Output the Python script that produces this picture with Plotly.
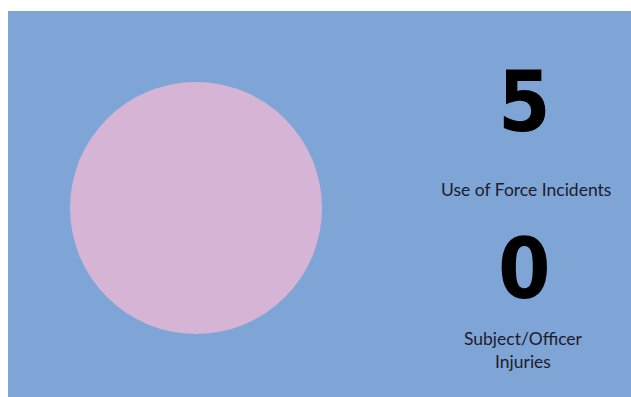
import plotly.graph_objects as go

# Summary values
categories = ["Use of Force Incidents"]
incident_counts = [5]
stat_values = ["5", "0"]
stat_labels = ["Use of Force Incidents", "Subject/Officer<br>Injuries"]

W, H = 631, 397
BLUE = "#7fa5d6"
PINK = "#d5b4d6"


def px_x(x):
    return x / W


def px_y(y):
    return 1 - y / H


fig = go.Figure()

fig.add_trace(go.Pie(
    labels=categories,
    values=incident_counts,
    marker=dict(colors=[PINK], line=dict(width=0)),
    textinfo="none",
    hoverinfo="label+value",
    sort=False,
    showlegend=False,
    domain=dict(x=[px_x(70), px_x(322)], y=[px_y(334), px_y(82)]),
))

# background panel
fig.add_shape(type="rect", xref="paper", yref="paper",
              x0=px_x(8), x1=1.0, y0=0.0, y1=px_y(11),
              fillcolor=BLUE, line=dict(width=0), layer="below")

num_font = dict(family="DejaVu Sans Condensed", weight="bold",
                size=84, color="#000000")
lbl_font = dict(family="Lato, Open Sans, sans-serif", size=17.5, color="#1c1c2c")

for val, y in zip(stat_values, [102, 269]):
    fig.add_annotation(text=val, x=px_x(524), y=px_y(y),
                       xref="paper", yref="paper", showarrow=False,
                       xanchor="center", yanchor="middle", font=num_font)

fig.add_annotation(text=stat_labels[0], x=px_x(526), y=px_y(189),
                   xref="paper", yref="paper", showarrow=False,
                   xanchor="center", yanchor="middle", font=lbl_font)
fig.add_annotation(text=stat_labels[1], x=px_x(523), y=px_y(350),
                   xref="paper", yref="paper", showarrow=False,
                   xanchor="center", yanchor="middle", align="center",
                   font=lbl_font)

fig.update_layout(
    width=W, height=H,
    margin=dict(l=0, r=0, t=0, b=0),
    paper_bgcolor="white",
    plot_bgcolor="white",
)

fig.write_html("out.html", config={"displayModeBar": False})
